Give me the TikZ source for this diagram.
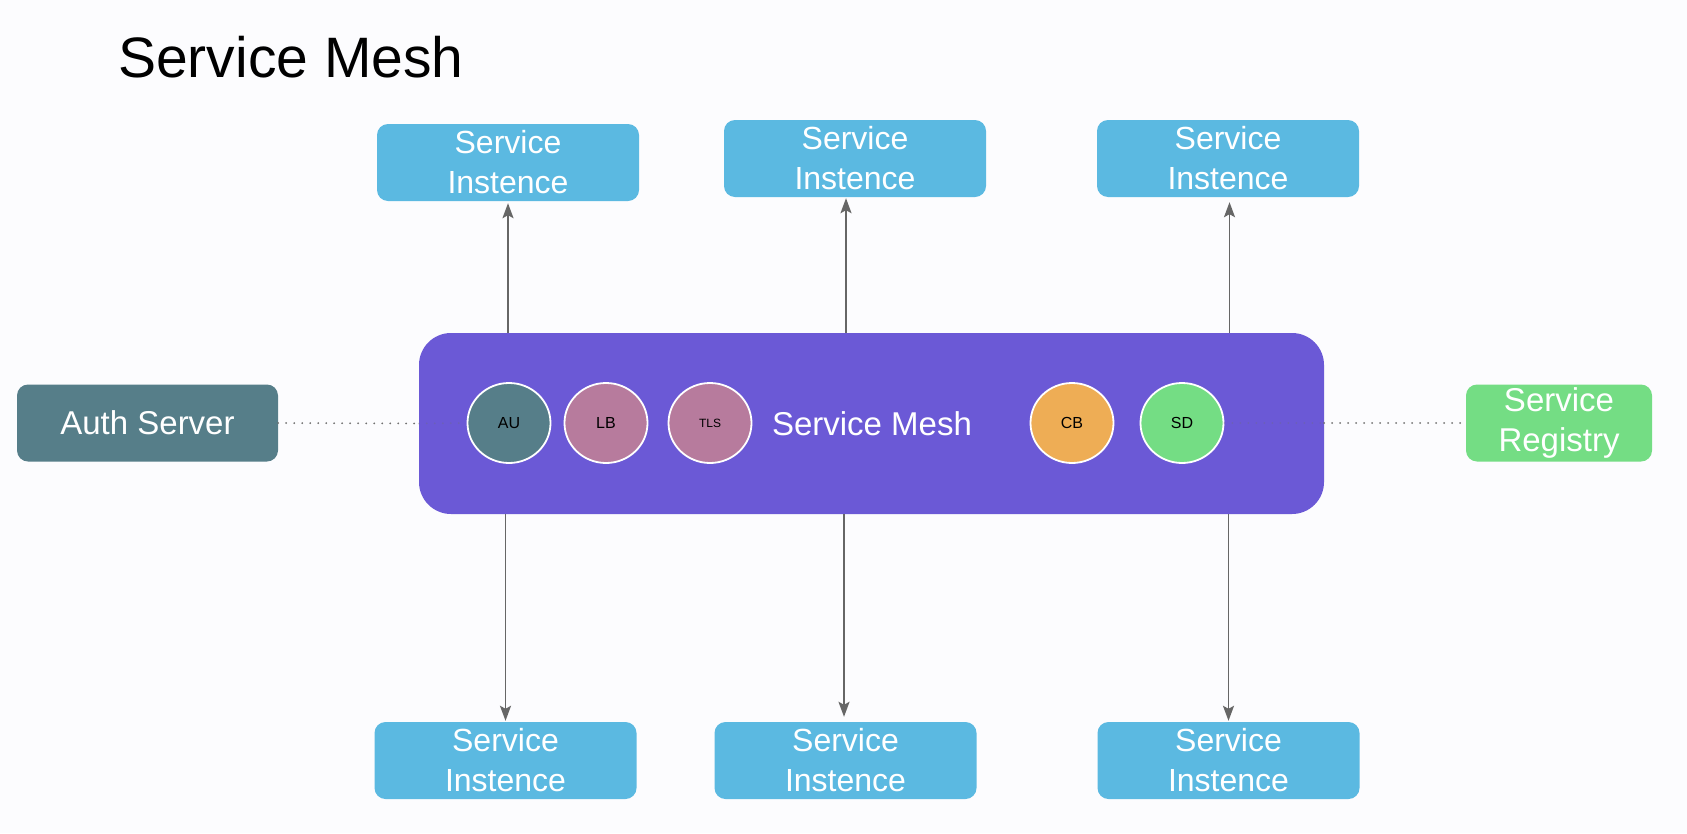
\documentclass[tikz,border=0pt]{standalone}
\usepackage{fontspec}
\setmainfont{Liberation Sans}
\usetikzlibrary{arrows.meta,shapes.geometric}
\definecolor{bgc}{HTML}{FCFCFE}
\definecolor{meshc}{HTML}{6B59D6}
\definecolor{instc}{HTML}{5BB9E1}
\definecolor{authc}{HTML}{567E89}
\definecolor{regc}{HTML}{74DD84}
\definecolor{pinkc}{HTML}{B77B9D}
\definecolor{orangec}{HTML}{EEAD55}
\definecolor{arrc}{HTML}{666666}
\definecolor{dotc}{HTML}{707070}
\tikzset{
  box/.style={rectangle, rounded corners=11pt, inner sep=0pt, minimum width=262pt, minimum height=77pt,
    text=white, align=center, font=\fontsize{32}{40}\selectfont},
  instbox/.style={box, fill=instc},
  comp/.style={ellipse, draw=white, line width=1.8pt, minimum width=83pt, minimum height=80pt, inner sep=0pt,
    text=black, font=\fontsize{16}{18}\selectfont},
  arr/.style={draw=arrc, line width=1.9pt, -{Stealth[length=15pt,width=11pt,inset=3pt]}},
  dotline/.style={draw=dotc, line width=2pt, line cap=round, dash pattern=on 0pt off 8pt},
}
\begin{document}
\begin{tikzpicture}[x=1pt,y=-1pt]
\fill[bgc] (0,0) rectangle (1687,833);
\useasboundingbox (0,0) rectangle (1687,833);
% title
\node[anchor=base west, inner sep=0pt, font=\fontsize{57}{60}\selectfont] (title) at (118,77) {Service Mesh};
% mesh
\node[rectangle, rounded corners=32pt, fill=meshc, minimum width=905pt, minimum height=181pt, inner sep=0pt] (mesh) at (871.5,423.5) {};
\node[text=white, inner sep=0pt, font=\fontsize{33}{36}\selectfont] (meshlabel) at (872,424) {Service Mesh};
% components
\node[comp, fill=authc] (au) at (509,423) {AU};
\node[comp, fill=pinkc] (lb) at (606,423) {LB};
\node[comp, fill=pinkc, font=\fontsize{12}{14}\selectfont] (tls) at (710,423) {TLS};
\node[comp, fill=orangec] (cb) at (1072,423) {CB};
\node[comp, fill=regc] (sd) at (1182,423) {SD};
% side boxes
\node[box, fill=authc, minimum width=261pt, font=\fontsize{33}{40}\selectfont] (auth) at (147.5,423) {Auth Server};
\node[box, fill=regc, minimum width=186pt, font=\fontsize{33}{40}\selectfont] (reg) at (1559,423) {Service\\Registry};
% instances
\node[instbox] (t1) at (508,162.5) {Service\\Instence};
\node[instbox] (t2) at (855,158.5) {Service\\Instence};
\node[instbox] (t3) at (1228,158.5) {Service\\Instence};
\node[instbox] (b1) at (505.5,760.5) {Service\\Instence};
\node[instbox] (b2) at (845.5,760.5) {Service\\Instence};
\node[instbox] (b3) at (1228.5,760.5) {Service\\Instence};
% dotted links
\draw[dotline] (auth.east) -- (mesh.west);
\draw[dotline, opacity=0.3] (mesh.west) -- (au.west);
\draw[dotline, opacity=0.3] (sd.east) -- (sd.east -| mesh.east);
\draw[dotline] (sd.east -| mesh.east) -- (reg.west);
% arrows up
\draw[arr, shorten >=2pt] (t1.south |- mesh.north) -- (t1.south);
\draw[arr, shorten >=1pt] ([xshift=-9pt]t2.south |- mesh.north) -- ([xshift=-9pt]t2.south);
\draw[arr, shorten >=5pt] ([xshift=1.5pt]t3.south |- mesh.north) -- ([xshift=1.5pt]t3.south);
% arrows down
\draw[arr, shorten >=1pt] (b1.north |- mesh.south) -- (b1.north);
\draw[arr, shorten >=5pt] ([xshift=-1.5pt]b2.north |- mesh.south) -- ([xshift=-1.5pt]b2.north);
\draw[arr, shorten >=1pt] (b3.north |- mesh.south) -- (b3.north);
\end{tikzpicture}
\end{document}
